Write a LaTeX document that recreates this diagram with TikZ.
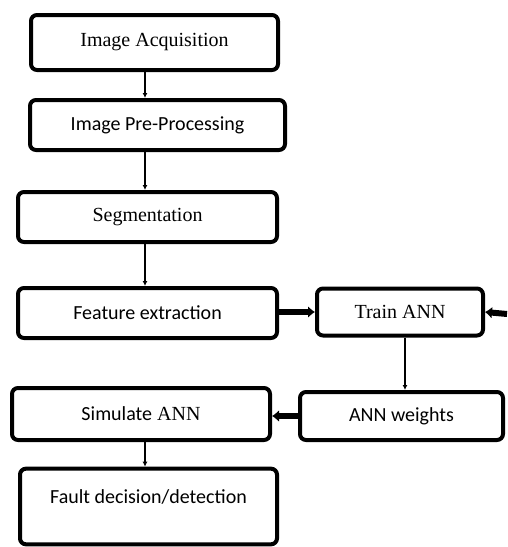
\documentclass[tikz,border=0pt]{standalone}
\usepackage{fontspec}
\setmainfont{Liberation Serif}
\newfontfamily\calib{Carlito}
\usetikzlibrary{arrows.meta}
\tikzset{
  box/.style={draw,line width=4pt,rounded corners=6pt,fill=white,font=\fontsize{20}{22}\selectfont},
  flow/.style={line width=2.8pt,-{Latex[length=5pt,width=5pt]}},
  bigflow/.style={line width=6pt,-{Latex[length=7pt,width=12pt]}}
}
\begin{document}
\begin{tikzpicture}[x=1pt,y=-1pt]
            \useasboundingbox (0,0) rectangle (507,547);
            % Nodes
            \node[box,minimum width=247pt,minimum height=55pt] (A) at (154.5,42.5){Image Acquisition};
            \node[box,minimum width=255pt,minimum height=50pt] (B) at (157.5,125){\calib Image Pre-Processing};
            \node[box,minimum width=259pt,minimum height=50pt] (C) at (147.5,217){Segmentation};
            \node[box,minimum width=259pt,minimum height=50pt] (D) at (147.5,313){\calib Feature extraction};
            \node[box,minimum width=166pt,minimum height=47pt] (E) at (400,312){Train ANN};
            \node[box,minimum width=203pt,minimum height=48pt] (F) at (401.5,416){\calib ANN weights};
            \node[box,minimum width=258pt,minimum height=52pt] (G) at (141,414){{\calib Simulate} ANN};
            \node[box,minimum width=257pt,text height=31pt,text depth=38pt,anchor=base] (H) at (148.5,503){\calib Fault decision/detection};
            \coordinate (X) at (145,0);
            \coordinate (Y) at (405,0);
            \coordinate (R) at (507,314);
            % Edges
            \draw[flow] (A.south -| X) -- (B.north -| X);
            \draw[flow] (B.south -| X) -- (C.north -| X);
            \draw[flow] (C.south -| X) -- (D.north -| X);
            \draw[bigflow] (D.east |- E) -- (E.west);
            \draw[bigflow] (R) -- (E.east);
            \draw[flow] (E.south -| Y) -- (F.north -| Y);
            \draw[bigflow] (F.west) -- (G.east |- F);
            \draw[flow] (G.south -| X) -- (H.north -| X);
        \end{tikzpicture}
\end{document}
